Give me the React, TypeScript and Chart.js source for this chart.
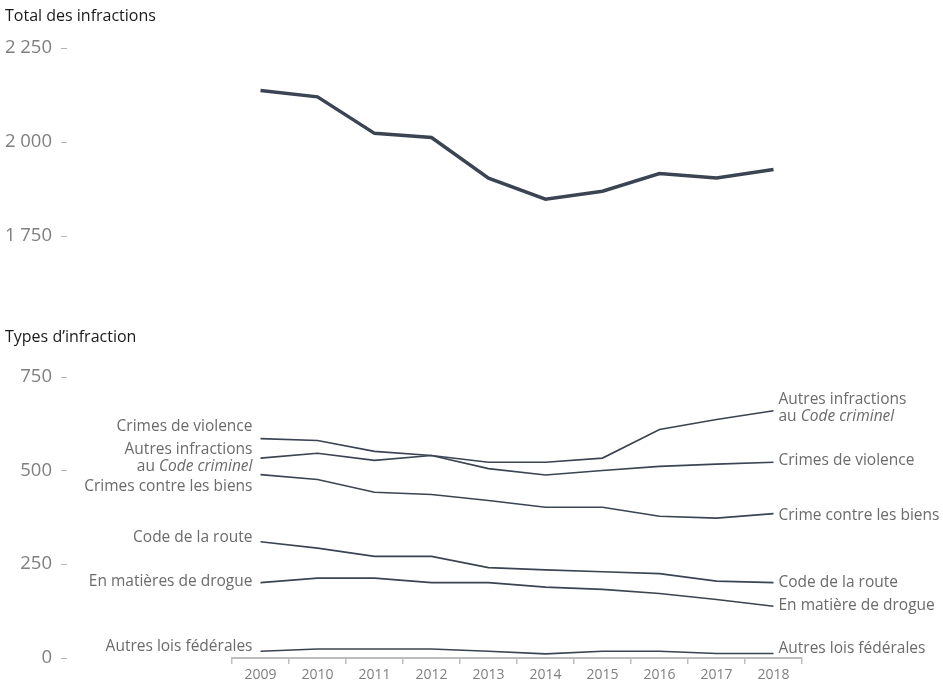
import { useEffect, useRef } from "react";
import { Chart, registerables } from "chart.js";

Chart.register(...registerables);

// ---- data ----
const years = ["2009", "2010", "2011", "2012", "2013", "2014", "2015", "2016", "2017", "2018"];

const totalInfractions = [2137, 2120, 2023, 2012, 1904, 1848, 1869, 1916, 1904, 1927];
const totalTicks = [1750, 2000, 2250];

// series named after their label on the left side of the chart
const crimesViolence = [585, 580, 551, 540, 522, 522, 533, 609, 636, 659];
const autresCodeCriminel = [533, 546, 527, 540, 505, 488, 500, 511, 517, 522];
const crimesBiens = [489, 476, 442, 436, 420, 402, 402, 378, 373, 385];
const codeRoute = [310, 293, 271, 271, 241, 235, 230, 225, 205, 201];
const drogue = [201, 213, 213, 201, 201, 189, 183, 172, 156, 138];
const autresLois = [18, 24, 24, 24, 18, 11, 18, 18, 12, 12];
const typeTicks = [0, 250, 500, 750];

// ---- styles ----
const FONT = "'Open Sans', sans-serif";
const LINE_COLOR = "#3b4452";
const LABEL_COLOR = "#6b6b6b";
const TICK_COLOR = "#7f7f7f";
const AXIS_WIDTH = 232;
const LABEL_RIGHT = 52;
const PAD_RIGHT = 141;

type Seg = { text: string; italic?: boolean };
type Tag = { lines: Seg[][]; dy: number };

const codeCriminel: Seg[][] = [
  [{ text: "Autres infractions" }],
  [{ text: "au " }, { text: "Code criminel", italic: true }],
];

const leftTags: Tag[] = [
  { lines: [[{ text: "Crimes de violence" }]], dy: -12 },
  { lines: codeCriminel, dy: -9 },
  { lines: [[{ text: "Crimes contre les biens" }]], dy: 12 },
  { lines: [[{ text: "Code de la route" }]], dy: -4 },
  { lines: [[{ text: "En matières de drogue" }]], dy: -1 },
  { lines: [[{ text: "Autres lois fédérales" }]], dy: -5 },
];

const rightTags: Tag[] = [
  { lines: codeCriminel, dy: -11 },
  { lines: [[{ text: "Crimes de violence" }]], dy: -2 },
  { lines: [[{ text: "Crime contre les biens" }]], dy: 2 },
  { lines: [[{ text: "Code de la route" }]], dy: 0 },
  { lines: [[{ text: "En matière de drogue" }]], dy: -1 },
  { lines: [[{ text: "Autres lois fédérales" }]], dy: -5 },
];

const fmt = (v: number) => String(v).replace(/\B(?=(\d{3})+(?!\d))/g, " ");

const segFont = (s: Seg) => `${s.italic ? "italic " : ""}15.5px ${FONT}`;

const drawTag = (ctx: CanvasRenderingContext2D, tag: Tag, x: number, y: number, align: "left" | "right") => {
  tag.lines.forEach((line, li) => {
    const widths = line.map((s) => {
      ctx.font = segFont(s);
      return ctx.measureText(s.text).width;
    });
    const total = widths.reduce((a, b) => a + b, 0);
    let cx = align === "right" ? x - total : x;
    line.forEach((s, si) => {
      ctx.font = segFont(s);
      ctx.fillText(s.text, cx, y + tag.dy + li * 17);
      cx += widths[si];
    });
  });
};

const tickDash = {
  id: "tickDash",
  afterDraw(chart: any) {
    const s = chart.scales.y;
    const ctx = chart.ctx;
    const x = s.right - s.options.ticks.padding;
    ctx.save();
    ctx.strokeStyle = "#b5b5b5";
    ctx.lineWidth = 1;
    s.ticks.forEach((_: any, i: number) => {
      const y = Math.round(s.getPixelForTick(i)) + 0.5;
      ctx.beginPath();
      ctx.moveTo(x + 9, y);
      ctx.lineTo(x + 15, y);
      ctx.stroke();
    });
    ctx.restore();
  },
};

const endLabels = {
  id: "endLabels",
  afterDatasetsDraw(chart: any) {
    const ctx = chart.ctx;
    ctx.save();
    ctx.fillStyle = LABEL_COLOR;
    ctx.textBaseline = "middle";
    chart.data.datasets.forEach((_: any, i: number) => {
      const pts = chart.getDatasetMeta(i).data;
      const first = pts[0];
      const last = pts[pts.length - 1];
      drawTag(ctx, leftTags[i], first.x - 8, first.y, "right");
      drawTag(ctx, rightTags[i], last.x + 5, last.y, "left");
    });
    ctx.restore();
  },
};

const yAxis = (ticks: number[]) => ({
  min: ticks[0],
  max: ticks[ticks.length - 1],
  afterBuildTicks: (s: any) => {
    s.ticks = ticks.map((value) => ({ value }));
  },
  afterFit: (s: any) => {
    s.width = AXIS_WIDTH;
    // the wide label padding must not eat into the vertical space
    s.paddingTop = 0;
    s.paddingBottom = 0;
  },
  grid: { display: false, drawTicks: false, tickLength: 0 },
  border: { display: false },
  ticks: {
    padding: AXIS_WIDTH - LABEL_RIGHT,
    color: TICK_COLOR,
    font: { family: FONT, size: 18.5 },
    callback: (v: any) => fmt(Number(v)),
  },
});

const totalConfig: any = {
  type: "line",
  data: {
    labels: years,
    datasets: [
      {
        data: totalInfractions,
        borderColor: LINE_COLOR,
        borderWidth: 3.5,
        pointRadius: 0,
        tension: 0,
      },
    ],
  },
  options: {
    responsive: false,
    animation: false,
    layout: { padding: { top: 48, bottom: 24, left: 0, right: PAD_RIGHT } },
    plugins: { legend: { display: false }, tooltip: { enabled: false } },
    scales: {
      x: { type: "category", offset: true, display: false },
      y: yAxis(totalTicks),
    },
  },
  plugins: [tickDash],
};

const typeSeries = [crimesViolence, autresCodeCriminel, crimesBiens, codeRoute, drogue, autresLois];

const typesConfig: any = {
  type: "line",
  data: {
    labels: years,
    datasets: typeSeries.map((d) => ({
      data: d,
      borderColor: LINE_COLOR,
      borderWidth: 1.6,
      pointRadius: 0,
      tension: 0,
    })),
  },
  options: {
    responsive: false,
    animation: false,
    layout: { padding: { top: 76.7, bottom: 0, left: 0, right: PAD_RIGHT } },
    plugins: { legend: { display: false }, tooltip: { enabled: false } },
    scales: {
      x: {
        type: "category",
        offset: true,
        afterFit: (s: any) => {
          s.height = 33;
        },
        grid: {
          offset: true,
          drawOnChartArea: false,
          drawTicks: true,
          tickLength: 6,
          color: "#bdbdbd",
          lineWidth: 1.5,
        },
        border: { display: true, color: "#bdbdbd", width: 2 },
        ticks: {
          padding: 3,
          color: TICK_COLOR,
          font: { family: FONT, size: 14 },
          maxRotation: 0,
        },
      },
      y: yAxis(typeTicks),
    },
  },
  plugins: [tickDash, endLabels],
};

function ChartCanvas({ config, top, height }: { config: any; top: number; height: number }) {
  const canvasRef = useRef<HTMLCanvasElement>(null);

  useEffect(() => {
    if (!canvasRef.current) return;
    const chart = new Chart(canvasRef.current, config);
    return () => {
      chart.destroy();
    };
  }, [config]);

  return (
    <canvas
      ref={canvasRef}
      width={943}
      height={height}
      style={{ position: "absolute", left: 0, top, width: 943, height, display: "block" }}
    />
  );
}

const titleStyle = (top: number): React.CSSProperties => ({
  position: "absolute",
  left: 5,
  top,
  fontFamily: FONT,
  fontSize: 16,
  lineHeight: "22px",
  color: "#1a1a1a",
  whiteSpace: "nowrap",
});

export default function App() {
  return (
    <div style={{ position: "absolute", left: 0, top: 0, width: 943, height: 691, background: "#fff" }}>
      <ChartCanvas config={totalConfig} top={0} height={260} />
      <ChartCanvas config={typesConfig} top={300} height={391} />
      <div style={titleStyle(4)}>Total des infractions</div>
      <div style={titleStyle(325)}>Types d’infraction</div>
    </div>
  );
}
